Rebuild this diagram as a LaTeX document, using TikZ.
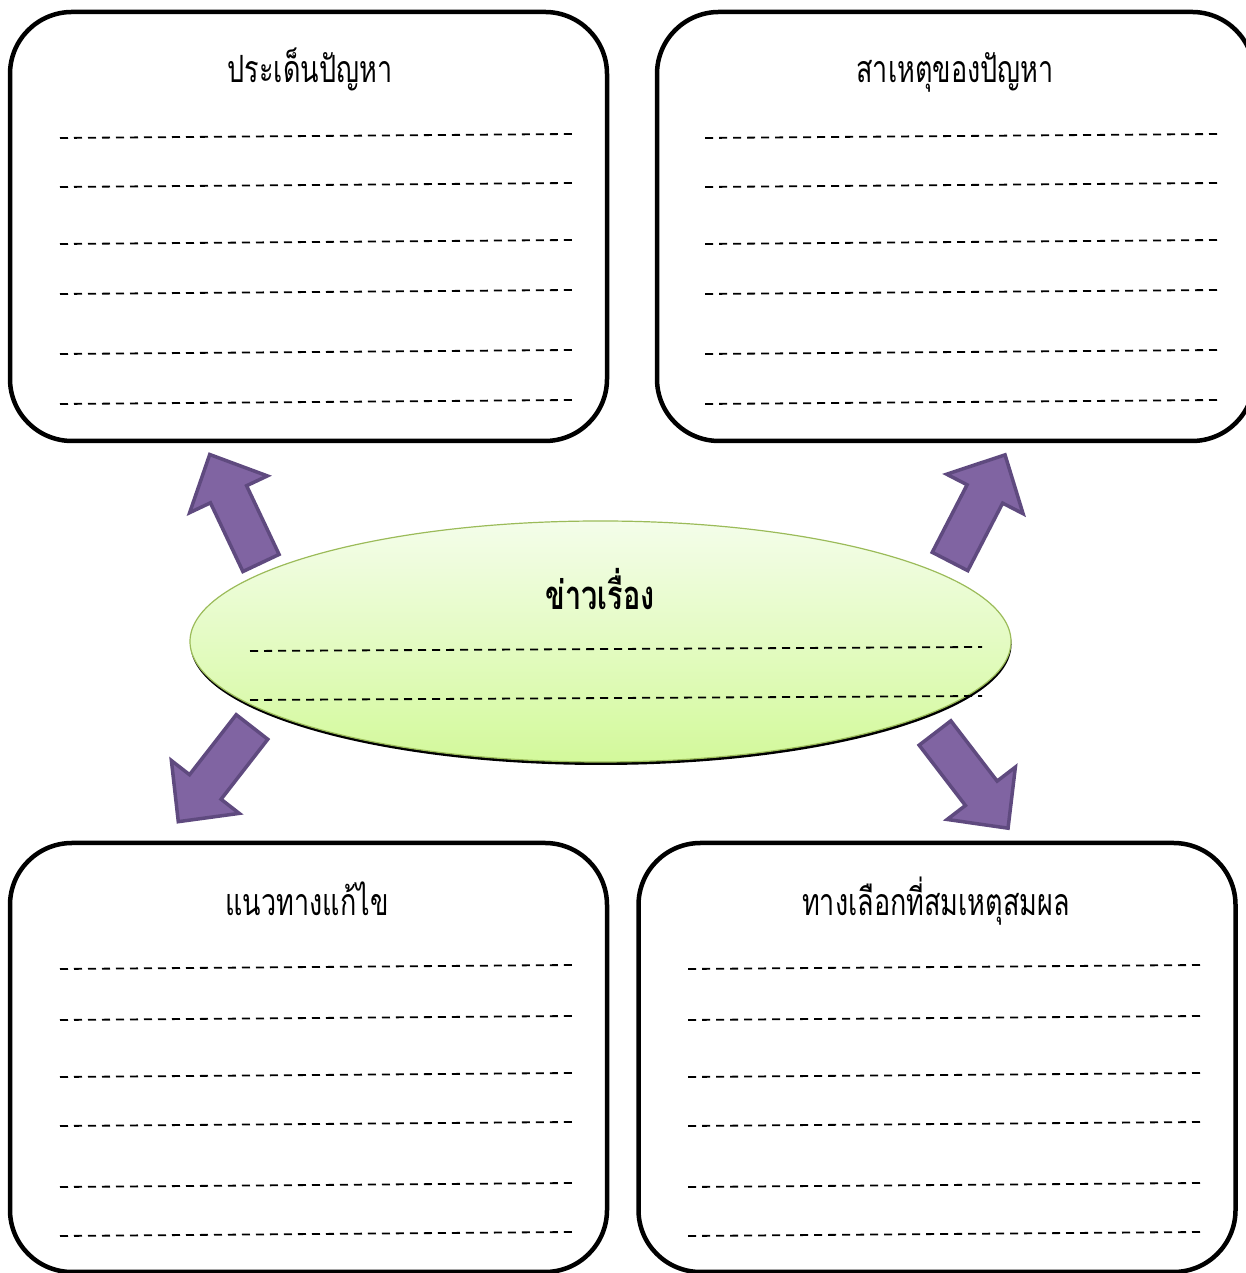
\documentclass[tikz,border=0pt]{standalone}
\usepackage{fontspec}
\newfontfamily\thai[Script=Thai,FakeStretch=0.72]{Loma}
\usetikzlibrary{shapes.geometric,shadows}
\definecolor{arrowfill}{HTML}{8064A2}
\definecolor{arrowline}{HTML}{5F4A7F}
\definecolor{ellline}{HTML}{9BBB59}
\definecolor{elltop}{HTML}{F4FDEA}
\definecolor{ellbot}{HTML}{D3F99B}
\begin{document}
\begin{tikzpicture}[x=1pt,y=1pt,
  box/.style={draw=black, line width=4.5pt, rounded corners=62pt, fill=white,
    minimum width=597pt, minimum height=429pt, inner sep=0pt},
  title/.style={font=\thai\fontsize{37.5}{37.5}\selectfont, anchor=base, inner sep=0pt},
  rule/.style={dash pattern=on 8pt off 6pt, line width=1.8pt},
  blockarrow/.pic={\draw[fill=arrowfill, draw=arrowline, line width=3.5pt, miter limit=4]
    (0,-20) -- (76,-20) -- (76,-43) -- (120,0) -- (76,43) -- (76,20) -- (0,20) -- cycle;}
]
\useasboundingbox (0,0) rectangle (1246,1273);

% boxes
\node[box] (tl) at (308.5,1046.5) {};
\node[box] (tr) at (955.5,1046.5) {};
\node[box] (bl) at (308.5,215.5) {};
\node[box] (br) at (937,215.5) {};

% titles
\node[title] (tlt) at (310,1190) {ประเด็นปัญหา};
\node[title] (trt) at (955,1190) {สาเหตุของปัญหา};
\node[title] (blt) at (307,357) {แนวทางแก้ไข};
\node[title] (brt) at (936,357) {ทางเลือกที่สมเหตุสมผล};

% ruled lines
\foreach \y in {138,187,244,294,354,404}{
  \draw[rule] (60,1273-\y) -- (572,1277-\y);
  \draw[rule] (705,1273-\y) -- (1218,1277-\y);
}
\foreach \y in {969,1020,1077,1126,1187,1236}{
  \draw[rule] (60,1273-\y) -- (572,1277-\y);
  \draw[rule] (688,1273-\y) -- (1200,1277-\y);
}

% ellipse
\node[shape=ellipse, draw=ellline, line width=1.2pt, minimum width=821pt, minimum height=241pt,
  top color=elltop, bottom color=ellbot,
  drop shadow={shadow xshift=0.5pt, shadow yshift=-3pt, fill=black, opacity=1}] (news) at (600.5,631.5) {};
\node[title, font=\thai\bfseries\fontsize{40}{40}\selectfont] (newst) at (600,663) {ข่าวเรื่อง};
\draw[rule] (250,1273-651) -- (982,1273-647);
\draw[rule] (250,1273-700) -- (982,1273-696);

% arrows
\pic[rotate=115.3] at (261,710) {blockarrow};
\pic[rotate=62.7] at (950,711.5) {blockarrow};
\pic[rotate=232.1] at (252,546) {blockarrow};
\pic[rotate=-52.5] at (935,540) {blockarrow};
\end{tikzpicture}
\end{document}
